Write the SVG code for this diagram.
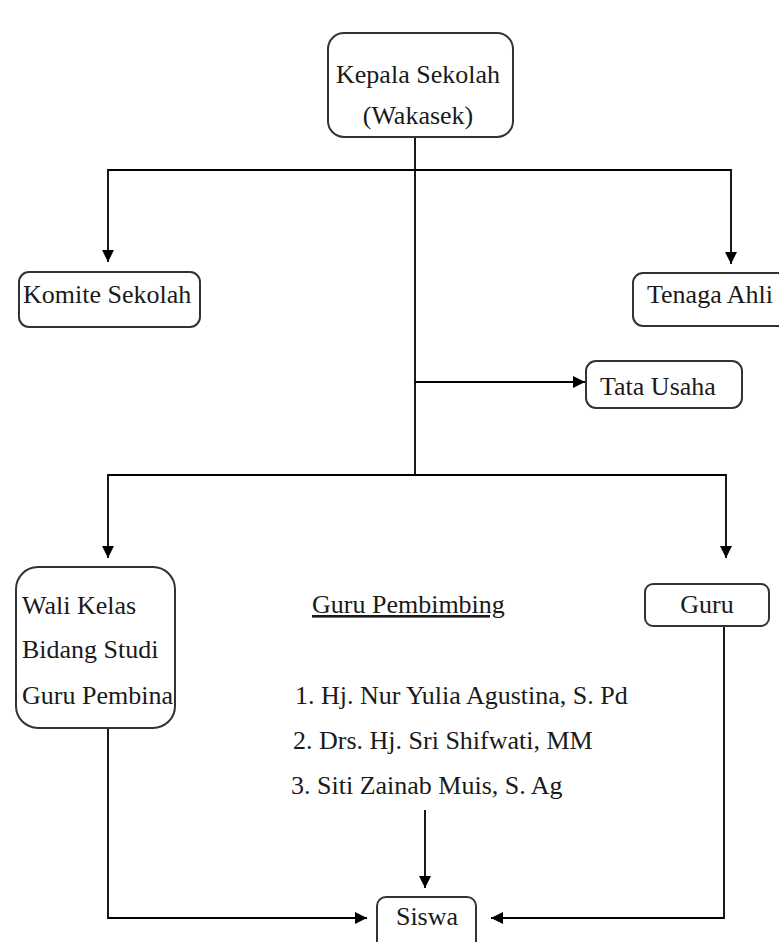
<svg xmlns="http://www.w3.org/2000/svg" width="779" height="942" viewBox="0 0 779 942">
<style>
text{font-family:"Liberation Serif","Times New Roman",serif;font-size:26px;fill:#1a1a1a}
.box{fill:#fff;stroke:#333;stroke-width:2}
.con{fill:none;stroke:#000;stroke-width:1.8}
</style>
<defs>
<marker id="ah" markerUnits="userSpaceOnUse" markerWidth="12" markerHeight="12" refX="12" refY="6" orient="auto">
<path d="M0,0 L12,6 L0,12 z" fill="#000"/>
</marker>
</defs>
<rect width="779" height="942" fill="#fff"/>
<g id="connectors">
<path class="con" d="M415 137 V475"/>
<path class="con" d="M415 170 H108 V262" marker-end="url(#ah)"/>
<path class="con" d="M415 170 H731 V264" marker-end="url(#ah)"/>
<path class="con" d="M415 382 H585" marker-end="url(#ah)"/>
<path class="con" d="M415 475 H108 V558" marker-end="url(#ah)"/>
<path class="con" d="M415 475 H726 V558" marker-end="url(#ah)"/>
<path class="con" d="M108 728 V918 H367" marker-end="url(#ah)"/>
<path class="con" d="M425 810 V888" marker-end="url(#ah)"/>
<path class="con" d="M724 626 V918 H491" marker-end="url(#ah)"/>
</g>
<g id="kepala">
<rect class="box" x="328" y="33" width="185" height="104" rx="16"/>
<text x="418" y="83" text-anchor="middle">Kepala Sekolah</text>
<text x="418" y="124" text-anchor="middle">(Wakasek)</text>
</g>
<g id="komite">
<rect class="box" x="19" y="272" width="181" height="55" rx="10"/>
<text x="23" y="303">Komite Sekolah</text>
</g>
<g id="tenaga">
<rect class="box" x="633" y="273" width="160" height="53" rx="10"/>
<text x="647" y="303">Tenaga Ahli</text>
</g>
<g id="tata">
<rect class="box" x="586" y="361" width="156" height="47" rx="10"/>
<text x="600" y="395">Tata Usaha</text>
</g>
<g id="wali">
<rect class="box" x="16" y="567" width="159" height="161" rx="22"/>
<text x="22" y="614">Wali Kelas</text>
<text x="22" y="658">Bidang Studi</text>
<text x="22" y="704">Guru Pembina</text>
</g>
<g id="guru">
<rect class="box" x="645" y="584" width="124" height="42" rx="8"/>
<text x="707" y="613" text-anchor="middle">Guru</text>
</g>
<g id="pembimbing">
<text x="312" y="613" text-decoration="underline">Guru Pembimbing</text>
<text x="295" y="704">1. Hj. Nur Yulia Agustina, S. Pd</text>
<text x="293" y="749">2. Drs. Hj. Sri Shifwati, MM</text>
<text x="291" y="794">3. Siti Zainab Muis, S. Ag</text>
</g>
<g id="siswa">
<rect class="box" x="377" y="897" width="99" height="60" rx="9"/>
<text x="427" y="925" text-anchor="middle">Siswa</text>
</g>
</svg>
